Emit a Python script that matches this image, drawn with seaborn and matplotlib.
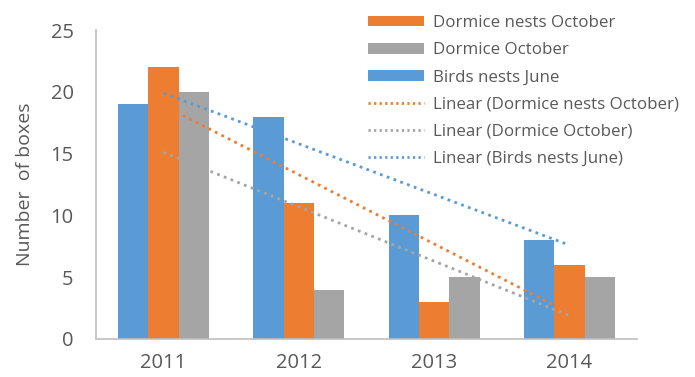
import numpy as np
import pandas as pd
import seaborn as sns
import matplotlib.pyplot as plt
from matplotlib.patches import Patch
from matplotlib.lines import Line2D

years = ["2011", "2012", "2013", "2014"]
birds_nests_june = [19, 18, 10, 8]
dormice_nests_october = [22, 11, 3, 6]
dormice_october = [20, 4, 5, 5]

series_names = ["Birds nests June", "Dormice nests October", "Dormice October"]
series_values = [birds_nests_june, dormice_nests_october, dormice_october]
colors = {"Birds nests June": "#5B9BD5",
          "Dormice nests October": "#ED7D31",
          "Dormice October": "#A5A5A5"}

rows = []
for name, vals in zip(series_names, series_values):
    for y, v in zip(years, vals):
        rows.append({"Year": y, "Series": name, "Boxes": v})
df = pd.DataFrame(rows)

sns.set_theme(style="white")
plt.rcParams["font.family"] = ["Open Sans", "DejaVu Sans"]
text_col = "#595959"
axis_col = "#BFBFBF"

fig = plt.figure(figsize=(6.95, 3.77), dpi=100)
ax = fig.add_axes([0.138, 0.1008, 0.7786, 0.8192])

sns.barplot(data=df, x="Year", y="Boxes", hue="Series", order=years,
            hue_order=series_names, palette=colors, width=0.672,
            saturation=1, linewidth=0, ax=ax, legend=False)

# Dotted linear trendlines across the category positions
dot_style = (0, (1.0, 1.6))
xpos = np.arange(len(years))
for name, vals in zip(series_names, series_values):
    sns.regplot(x=xpos, y=np.array(vals, dtype=float), scatter=False, ci=None,
                truncate=True, ax=ax,
                line_kws=dict(color=colors[name], lw=2.0,
                              linestyle=dot_style, dash_capstyle="butt"))

ax.set_xlim(-0.5, 3.5)
ax.set_ylim(0, 25)
ax.set_yticks([0, 5, 10, 15, 20, 25])
ax.set_xlabel("")
ax.set_ylabel("Number  of boxes", fontsize=14, color=text_col, labelpad=12)
ax.tick_params(axis="y", length=0, labelsize=14.5, labelcolor=text_col, pad=16)
ax.set_xticks(xpos)
ax.set_xticklabels(years)
ax.tick_params(axis="x", length=0, labelsize=14.5, labelcolor=text_col, pad=10)
# boundary tick marks between categories
ax.set_xticks(np.arange(-0.5, 4.0, 1.0), minor=True)
ax.tick_params(axis="x", which="minor", length=7, width=1, color=axis_col,
               direction="out")
for s in ["top", "right"]:
    ax.spines[s].set_visible(False)
for s in ["left", "bottom"]:
    ax.spines[s].set_color(axis_col)
    ax.spines[s].set_linewidth(1.2)

legend_order = ["Dormice nests October", "Dormice October", "Birds nests June"]
handles = [Patch(facecolor=colors[n], edgecolor="none") for n in legend_order]
labels = list(legend_order)
handles += [Line2D([], [], color=colors[n], lw=2.0, linestyle=(0, (0.8, 1.2)))
            for n in legend_order]
labels += [f"Linear ({n})" for n in legend_order]

leg = fig.legend(handles, labels, loc="upper left",
                 bbox_to_anchor=(0.52, 0.978), frameon=False,
                 fontsize=12.2, handlelength=3.3, handleheight=0.6,
                 handletextpad=0.5, labelspacing=0.66, borderaxespad=0)
for t in leg.get_texts():
    t.set_color(text_col)

fig.savefig("out.png", dpi=100)
